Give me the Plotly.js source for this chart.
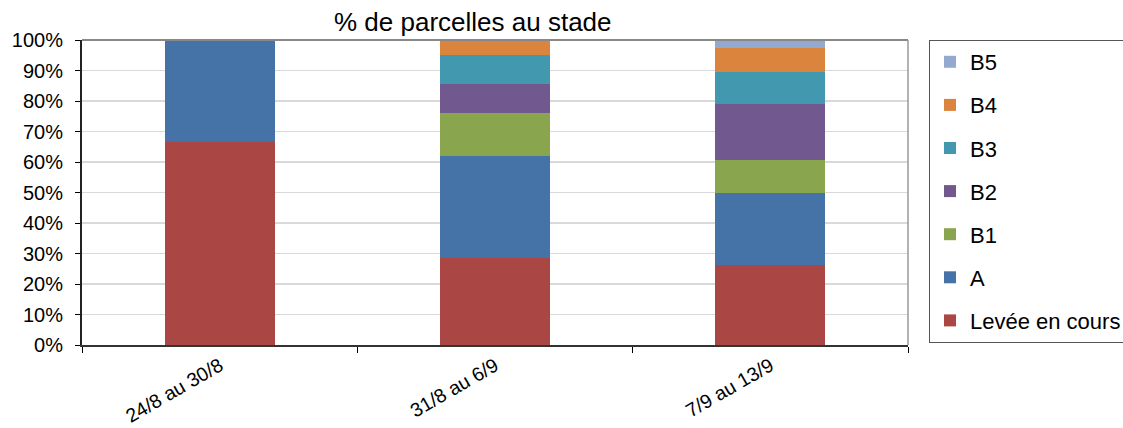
<!DOCTYPE html>
<html><head><meta charset="utf-8">
<script src="https://cdn.plot.ly/plotly-3.0.1.min.js"></script>
<style>html,body{margin:0;padding:0;background:#fff}#chart{width:1123px;height:428px}</style>
</head><body><div id="chart"></div>
<script>
const categories = ["24/8 au 30/8", "31/8 au 6/9", "7/9 au 13/9"];
const seriesNames = ["Levée en cours", "A", "B1", "B2", "B3", "B4", "B5"];
const levee = [66.7, 28.6, 26.3];
const stadeA = [33.3, 33.3, 23.7];
const stadeB1 = [null, 14.3, 10.5];
const stadeB2 = [null, 9.5, 18.4];
const stadeB3 = [null, 9.5, 10.5];
const stadeB4 = [null, 4.8, 7.9];
const stadeB5 = [null, null, 2.6];
const colors = ["#AA4643", "#4572A7", "#89A54E", "#71588F", "#4198AF", "#DB843D", "#93A9CF"];
const values = [levee, stadeA, stadeB1, stadeB2, stadeB3, stadeB4, stadeB5];

const traces = values.map((v, i) => ({
  type: "bar", name: seriesNames[i], x: categories, y: v,
  marker: {color: colors[i], line: {width: 0}},
  legendgroup: "g" + i, legendrank: 100 - i * 10, hoverinfo: "name+y"
}));

const layout = {
  width: 1123, height: 428,
  margin: {l: 82, r: 215, t: 40, b: 83, autoexpand: false},
  barmode: "stack", bargap: 0.6,
  paper_bgcolor: "#fff", plot_bgcolor: "#fff",
  font: {family: "Liberation Sans, Arial, sans-serif", color: "#000", size: 20},
  title: {text: "% de parcelles au stade", font: {size: 26, color: "#000"}, x: 0.421, xanchor: "center", y: 0.95, yanchor: "middle"},
  xaxis: {
    type: "category", tickangle: -30, tickson: "boundaries", ticks: "outside", ticklen: 6, tickcolor: "#000",
    showline: true, linecolor: "#333", linewidth: 2, mirror: false,
    tickfont: {size: 19.5}, showgrid: false, zeroline: false
  },
  yaxis: {
    range: [0, 100], dtick: 10, ticksuffix: "%", ticks: "outside", ticklen: 5, tickcolor: "#000",
    showline: true, linecolor: "#222", linewidth: 2, gridcolor: "#d9d9d9", gridwidth: 1.5,
    tickfont: {size: 20}, zeroline: false, ticklabelstandoff: 8
  },
  shapes: [
    {type: "line", xref: "paper", yref: "paper", x0: 0, x1: 1, y0: 1, y1: 1, line: {color: "#888", width: 2}},
    {type: "line", xref: "paper", yref: "paper", x0: 1, x1: 1, y0: 0, y1: 1, line: {color: "#999", width: 1.5}}
  ],
  legend: {
    x: 1.0254, y: 1.0, xanchor: "left", yanchor: "top",
    traceorder: "grouped", tracegroupgap: 11.5,
    bordercolor: "#555", borderwidth: 1, bgcolor: "#fff",
    font: {size: 22}, itemwidth: 30
  },
  showlegend: true
};
Plotly.newPlot("chart", traces, layout, {displayModeBar: false, staticPlot: true});
</script></body></html>
